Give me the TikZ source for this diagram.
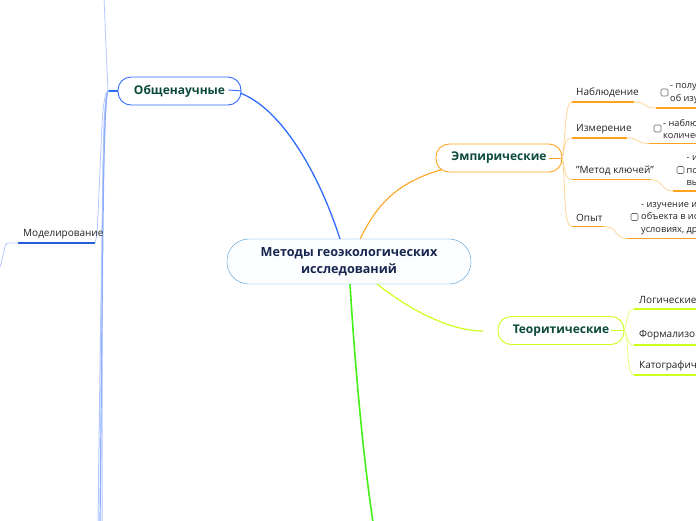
\documentclass[tikz,border=0pt]{standalone}
\usepackage{fontspec}
\setmainfont{Open Sans}
\definecolor{rootline}{HTML}{4A9BD8}
\definecolor{rootfill}{HTML}{FBFDFF}
\definecolor{rootfont}{HTML}{16264F}
\definecolor{mainfont}{HTML}{0B4A3A}
\definecolor{leaffont}{HTML}{222222}
\definecolor{blueline}{HTML}{2F6BFF}
\definecolor{bluepale}{HTML}{B4C8FF}
\definecolor{orangeline}{HTML}{FFA31F}
\definecolor{orangepale}{HTML}{FFD596}
\definecolor{limeline}{HTML}{CCFF1A}
\definecolor{limepale}{HTML}{E4FF7A}
\definecolor{greenline}{HTML}{44F016}
\tikzset{
    rootbox/.style ={
        rectangle,
        rounded corners =22pt,
        minimum width =244pt,
        minimum height =45pt,
        inner sep=2pt,
        align=center,
        font=\fontsize{12.6}{17.5}\selectfont\bfseries,
        text=rootfont,
        fill=rootfill,
        draw=rootline
    },
    mainbox/.style ={
        rectangle,
        rounded corners =13pt,
        minimum height =28pt,
        inner sep=2pt,
        font=\fontsize{12}{14}\selectfont\bfseries,
        text=mainfont,
        fill=white,
        line width=0.9pt
    },
    leaf/.style ={
        anchor=west,
        inner sep=0pt,
        align=left,
        text=leaffont,
        font=\fontsize{10}{12.5}\selectfont
    },
    note/.style ={
        leaf,
        font=\fontsize{9.2}{12.5}\selectfont
    },
    tick/.style ={
        rectangle,
        rounded corners =1.2pt,
        minimum size =7pt,
        inner sep=0pt,
        line width=0.6pt,
        draw=black!60
    },
    under/.style ={
        orangeline,
        line width=1.6pt
    },
    underlime/.style ={
        limeline,
        line width=1.7pt
    }
}
\begin{document}
\begin{tikzpicture}[x=1pt,y=-1pt]
        \clip (0,0) rectangle (696,520);
        % branches from the root
        \coordinate (ROOTA) at(340,239);
        \coordinate (ROOTB) at(360,239);
        \coordinate (ROOTC) at(377,284);
        \coordinate (ROOTD) at(350,284);
        \coordinate (DOWN) at(373,522);
        \coordinate (STUBA) at(228,90);
        \coordinate (STUBB) at(549,158);
        \coordinate (STUBC) at(483,331);
        \draw[blueline,line width=1.3pt] (ROOTA) .. controls (318,170) and (275,96) .. (STUBA);
        \draw[orangeline,line width=1.1pt] (ROOTB) .. controls (382,195) and (410,158) .. (STUBB);
        \draw[limeline,line width=1.2pt] (ROOTC) .. controls (410,310) and (450,331) .. (STUBC);
        \draw[greenline,line width=1.6pt] (ROOTD) .. controls (354,350) and (362,450) .. (DOWN);
        \node[rootbox] (ROOT) at(349,261.5) {Методы геоэкологических\\исследований};
        \node[mainbox,draw=blueline,minimum width=123pt] (GENERAL) at(179.5,91) {\raisebox{-1pt}{Общенаучные}};
        \node[mainbox,draw=orangeline,minimum width=126pt] (EMPIRIC) at(499,158) {\raisebox{-0.5pt}{Эмпирические}};
        \node[mainbox,draw=limeline,minimum width=126pt] (THEORY) at(561,330.5) {\raisebox{-0.5pt}{Теоритические}};
        \draw[blueline,line width=0.9pt] (GENERAL.east) -- +(-13,-1);
        \draw[orangeline,line width=0.9pt] (EMPIRIC.east) -- +(-13,0);
        \draw[limeline,line width=1pt] (THEORY.east) -- +(-13,0);
        % Общенаучные
        \coordinate (JOINA) at(108,91);
        \coordinate (UPEND) at(104,-2);
        \coordinate (MODA) at(95,243);
        \coordinate (MODB) at(18,243);
        \coordinate (MODC) at(8,243);
        \coordinate (MODD) at(0,267);
        \coordinate (LOWA) at(100,522);
        \coordinate (LOWB) at(98,522);
        \coordinate (LOWC) at(102,522);
        \draw[blueline,line width=1.2pt] (GENERAL.west)--(JOINA);
        \draw[bluepale,line width=0.8pt] (JOINA) .. controls (106,50) and (105,20) .. (UPEND);
        \draw[bluepale,line width=1pt] (JOINA) .. controls (104,100) and (103,130) .. (102,250) -- (LOWC);
        \draw[bluepale,line width=0.8pt] (JOINA) .. controls (101,96) and (102,140) .. (97,235) -- (MODA);
        \draw[bluepale,line width=1pt] (JOINA) .. controls (103,100) and (101,300) .. (LOWB);
        \draw[blueline!55,line width=1.2pt] (JOINA) .. controls (103,100) and (103,240) .. (LOWA);
        \node[leaf] (MOD) at(23,234) {Моделирование};
        \draw[blueline!85!black,line width=1.1pt] (MODA)--(MODB);
        \draw[bluepale,line width=0.8pt] (MODB)--(MODC) .. controls (4,243) and (4,255) .. (MODD);
        % Эмпирические
        \node[leaf] (OBS) at(576,93) {Наблюдение};
        \node[leaf] (MEAS) at(576,129.5) {Измерение};
        \node[leaf] (KEYS) at(576,171) {"Метод ключей"};
        \node[leaf] (EXP) at(576,218) {Опыт};
        \node[tick] (OBSTICK) at(664.5,92.5) {};
        \node[tick] (MEASTICK) at(657.5,128.5) {};
        \node[tick] (KEYSTICK) at(680.5,170) {};
        \node[tick] (EXPTICK) at(634.5,217) {};
        \node[note] (OBSTXT) at(670,93.5) {- получ\\об изу};
        \node[note] (MEASTXT) at(663,129) {- наблю\\количес};
        \node[note] (KEYSTXT) at(686.5,171) {- и\\по\\вы};
        \node[note] (EXPTXT) at(641,218.5) {- изучение и\\объекта в ис\\условиях, др};
        \coordinate (OBSA) at(572,102);
        \coordinate (OBSB) at(634,102);
        \coordinate (OBSC) at(656,108);
        \coordinate (OBSD) at(698,108);
        \coordinate (MEASA) at(572,138);
        \coordinate (MEASB) at(627,138);
        \coordinate (MEASC) at(649,143.5);
        \coordinate (MEASD) at(698,143.5);
        \coordinate (KEYSA) at(572,179.5);
        \coordinate (KEYSB) at(650,179.5);
        \coordinate (KEYSC) at(673,191);
        \coordinate (KEYSD) at(698,191);
        \coordinate (EXPA) at(572,226.5);
        \coordinate (EXPB) at(604,226.5);
        \coordinate (EXPC) at(627,238.5);
        \coordinate (EXPD) at(698,238.5);
        \draw[orangepale,line width=0.8pt] (EMPIRIC.east) .. controls (566,130) and (565,102) .. (OBSA);
        \draw[orangepale,line width=0.8pt] (EMPIRIC.east) .. controls (565,145) and (565,138) .. (MEASA);
        \draw[orangepale,line width=0.8pt] (EMPIRIC.east) .. controls (565,168) and (564,179.5) .. (KEYSA);
        \draw[orangepale,line width=0.8pt] (EMPIRIC.east) .. controls (566,190) and (563,226.5) .. (EXPA);
        \draw[under] (OBSA)--(OBSB);
        \draw[under] (MEASA)--(MEASB);
        \draw[under] (KEYSA)--(KEYSB);
        \draw[under] (EXPA)--(EXPB);
        \draw[orangepale,line width=0.8pt] (OBSB) .. controls (648,102) and (642,108) .. (OBSC);
        \draw[orangepale,line width=0.8pt] (MEASB) .. controls (641,138) and (635,143.5) .. (MEASC);
        \draw[orangepale,line width=0.8pt] (KEYSB) .. controls (664,179.5) and (660,191) .. (KEYSC);
        \draw[orangepale,line width=0.8pt] (EXPB) .. controls (618,226.5) and (614,238.5) .. (EXPC);
        \draw[under] (OBSC)--(OBSD);
        \draw[under] (MEASC)--(MEASD);
        \draw[under] (KEYSC)--(KEYSD);
        \draw[under] (EXPC)--(EXPD);
        % Теоритические
        \node[leaf] (LOGIC) at(639,300) {Логические};
        \node[leaf] (FORMAL) at(639,335) {Формализо};
        \node[leaf] (CARTO) at(639,366) {Катографич};
        \coordinate (LOGICA) at(634,309);
        \coordinate (LOGICB) at(698,309);
        \coordinate (FORMALA) at(634,345);
        \coordinate (FORMALB) at(698,345);
        \coordinate (CARTOA) at(634,375);
        \coordinate (CARTOB) at(698,375);
        \draw[limepale,line width=0.8pt] (THEORY.east) .. controls (628,318) and (627,309) .. (LOGICA);
        \draw[limepale,line width=0.8pt] (THEORY.east) .. controls (628,338) and (627,345) .. (FORMALA);
        \draw[limepale,line width=0.8pt] (THEORY.east) .. controls (630,345) and (626,375) .. (CARTOA);
        \draw[underlime] (LOGICA)--(LOGICB);
        \draw[underlime] (FORMALA)--(FORMALB);
        \draw[underlime] (CARTOA)--(CARTOB);
\end{tikzpicture}
\end{document}
